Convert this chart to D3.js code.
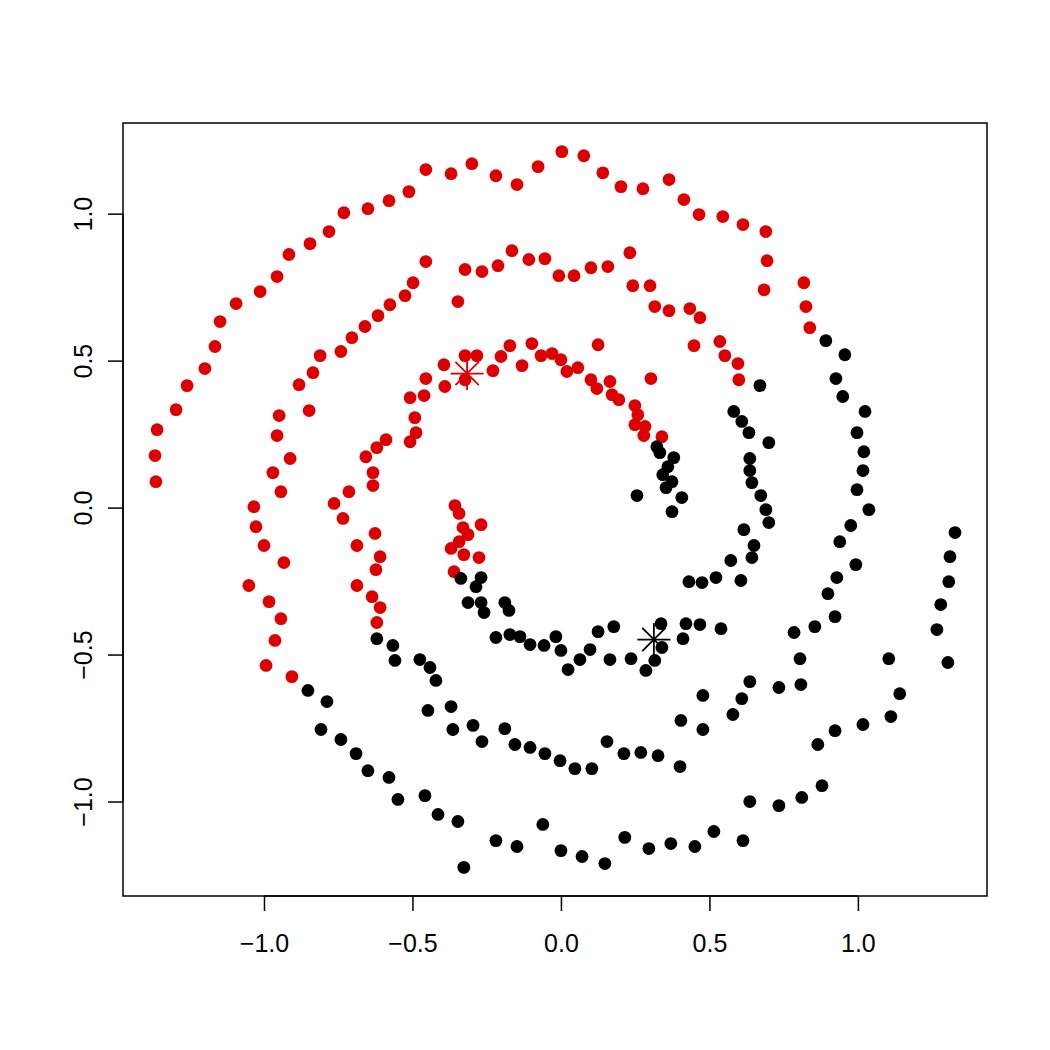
<!DOCTYPE html>
<html>
<head>
<meta charset="utf-8">
<script src="https://cdn.jsdelivr.net/npm/d3@7/dist/d3.min.js"></script>
<style>
  body { margin: 0; background: #fff; }
  text { font-family: "Liberation Sans", Arial, Helvetica, sans-serif; }
</style>
</head>
<body>
<svg id="chart"></svg>
<script>
// spiral 1 (red) and spiral 2 (black)
const redX = [
  -1.364, -1.367, -1.360, -1.296, -1.259, -1.199, -1.165, -1.148, -1.094, -1.013,
  -0.956, -0.916, -0.845, -0.781, -0.731, -0.650, -0.579, -0.512, -0.455, -0.370,
  -0.300, -0.219, -0.148, -0.077, 0.003, 0.077, 0.141, 0.202, 0.276, 0.364,
  0.414, 0.465, 0.545, 0.613, 0.690, 0.694, 0.684, 0.818, 0.825, 0.838,
  -0.498, -0.455, -0.525, -0.576, -0.616, -0.660, -0.704, -0.741, -0.811, -0.835,
  -0.882, -0.848, -0.949, -0.956, -0.912, -0.970, -0.943, -1.034, -1.027, -1.000,
  -0.933, -1.051, -0.983, -0.943, -0.963, -0.993, -0.906,
  -0.323, -0.266, -0.212, -0.165, -0.108, -0.054, -0.007, 0.044, 0.101, 0.158,
  0.232, 0.242, 0.300, 0.316, 0.364, 0.434, 0.468, -0.347, 0.535, 0.552,
  0.596, 0.599, 0.448,
  -0.394, -0.323, -0.283, -0.229, -0.455, -0.391, -0.323, -0.508, -0.461, -0.492,
  -0.488, -0.508, -0.589, -0.620, -0.657, -0.633, -0.633, -0.714, -0.764, -0.734,
  -0.626, -0.687, -0.609, -0.623, -0.687, -0.636, -0.609, -0.620,
  -0.202, -0.172, -0.098, -0.067, -0.030, 0.000, -0.131, 0.020, 0.057, 0.101,
  0.125, 0.165, 0.121, 0.172, 0.195, 0.249, 0.259, 0.249, 0.283, 0.279,
  0.340, 0.303,
  -0.357, -0.343, -0.330, -0.269, -0.313, -0.343, -0.370, -0.327, -0.276, -0.360
];
const redY = [
  0.088, 0.177, 0.265, 0.333, 0.415, 0.473, 0.548, 0.633, 0.694, 0.735,
  0.786, 0.861, 0.898, 0.939, 1.003, 1.017, 1.044, 1.075, 1.150, 1.136,
  1.170, 1.129, 1.099, 1.160, 1.211, 1.197, 1.139, 1.092, 1.085, 1.116,
  1.048, 0.997, 0.990, 0.963, 0.939, 0.840, 0.741, 0.765, 0.684, 0.612,
  0.765, 0.837, 0.721, 0.690, 0.653, 0.616, 0.578, 0.531, 0.517, 0.459,
  0.418, 0.330, 0.313, 0.245, 0.167, 0.119, 0.054, 0.003, -0.065, -0.129,
  -0.187, -0.265, -0.320, -0.378, -0.452, -0.537, -0.575,
  0.810, 0.803, 0.823, 0.874, 0.844, 0.847, 0.789, 0.789, 0.816, 0.820,
  0.867, 0.755, 0.755, 0.684, 0.670, 0.677, 0.646, 0.701, 0.565, 0.517,
  0.490, 0.435, 0.551,
  0.486, 0.517, 0.517, 0.466, 0.439, 0.412, 0.435, 0.374, 0.381, 0.306,
  0.255, 0.224, 0.231, 0.204, 0.173, 0.119, 0.075, 0.054, 0.014, -0.037,
  -0.088, -0.129, -0.167, -0.211, -0.265, -0.303, -0.340, -0.391,
  0.514, 0.551, 0.558, 0.517, 0.524, 0.503, 0.483, 0.463, 0.476, 0.435,
  0.554, 0.429, 0.405, 0.384, 0.367, 0.347, 0.316, 0.282, 0.276, 0.245,
  0.241, 0.439,
  0.007, -0.020, -0.068, -0.058, -0.092, -0.116, -0.139, -0.160, -0.170, -0.218
];
const blackX = [
  0.323, 0.333, 0.380, 0.360, 0.343, 0.374, 0.354, 0.407, 0.256, 0.374,
  -0.337, -0.269, -0.286, -0.313, -0.269, -0.259, -0.189, -0.175, -0.219, -0.172,
  -0.138, -0.104, -0.057, -0.017, 0.000, 0.024, 0.064, 0.098, 0.125, 0.178,
  0.165, 0.236, 0.286, 0.316, 0.340, 0.337, 0.421, 0.411, 0.468, 0.431,
  0.475, 0.539, 0.522, 0.572, 0.606, 0.643, 0.650, 0.616, 0.700, 0.690,
  0.673, 0.643, 0.636, 0.636, 0.700, 0.633, 0.609, 0.582, 0.670,
  -0.620, -0.566, -0.559, -0.475, -0.441, -0.421, -0.448, -0.370, -0.364, -0.296,
  -0.266, -0.189, -0.155, -0.104, -0.054, -0.003, 0.047, 0.104, 0.155, 0.212,
  0.269, 0.327, 0.401, 0.404, 0.478, 0.478, 0.579, 0.609, 0.636, 0.734,
  0.808, 0.805, 0.865, 0.923, 1.017, 1.111, 1.141, 1.104, 0.785, 0.855,
  0.923, 0.899, 0.929, 0.993, 0.939, 0.976, 1.037, 0.997, 1.017, 1.020,
  0.997, 1.024, 0.949, 0.926, 0.956, 0.892,
  -0.852, -0.788, -0.808, -0.741, -0.690, -0.650, -0.579, -0.549, -0.458, -0.414,
  -0.347, -0.327, -0.219, -0.148, -0.061, 0.000, 0.071, 0.148, 0.215, 0.296,
  0.370, 0.451, 0.515, 0.613, 0.636, 0.734, 0.811, 0.879, 1.303, 1.266,
  1.279, 1.306, 1.310, 1.327
];
const blackY = [
  0.207, 0.187, 0.170, 0.139, 0.112, 0.088, 0.068, 0.034, 0.041, -0.014,
  -0.241, -0.238, -0.269, -0.323, -0.323, -0.357, -0.323, -0.350, -0.442, -0.432,
  -0.439, -0.466, -0.469, -0.439, -0.486, -0.551, -0.517, -0.483, -0.422, -0.405,
  -0.517, -0.514, -0.554, -0.520, -0.476, -0.395, -0.395, -0.446, -0.398, -0.252,
  -0.255, -0.412, -0.238, -0.180, -0.248, -0.170, -0.129, -0.075, -0.051, -0.007,
  0.041, 0.085, 0.126, 0.167, 0.221, 0.255, 0.293, 0.327, 0.415,
  -0.446, -0.469, -0.520, -0.517, -0.544, -0.588, -0.690, -0.677, -0.755, -0.741,
  -0.796, -0.752, -0.806, -0.816, -0.837, -0.861, -0.888, -0.888, -0.796, -0.837,
  -0.833, -0.844, -0.881, -0.724, -0.639, -0.755, -0.704, -0.650, -0.592, -0.612,
  -0.602, -0.514, -0.806, -0.759, -0.738, -0.711, -0.633, -0.514, -0.425, -0.405,
  -0.371, -0.293, -0.238, -0.194, -0.116, -0.061, -0.007, 0.061, 0.126, 0.190,
  0.255, 0.327, 0.378, 0.439, 0.520, 0.568,
  -0.622, -0.660, -0.755, -0.789, -0.837, -0.895, -0.918, -0.993, -0.980, -1.044,
  -1.068, -1.224, -1.133, -1.153, -1.078, -1.167, -1.187, -1.211, -1.122, -1.160,
  -1.143, -1.153, -1.102, -1.133, -1.000, -1.014, -0.986, -0.946, -0.527, -0.415,
  -0.330, -0.252, -0.167, -0.085
];
// cluster centres, drawn as asterisks
const centerX = [-0.316, 0.313];
const centerY = [0.456, -0.449];
const centerGroup = ['red', 'black'];

const xTicks = [-1.0, -0.5, 0.0, 0.5, 1.0];
const yTicks = [-1.0, -0.5, 0.0, 0.5, 1.0];

const width = 1050;
const height = 1050;
const margin = { top: 123, right: 63, bottom: 154, left: 123 };
const colors = { red: '#dc0000', black: '#000000' };

const red = redX.map((d, i) => ({ x: d, y: redY[i], g: 'red' }));
const black = blackX.map((d, i) => ({ x: d, y: blackY[i], g: 'black' }));
const centers = centerX.map((d, i) => ({ x: d, y: centerY[i], g: centerGroup[i] }));
const points = red.concat(black);

// R style 4% padding around the data range
const pad = (e) => { const d = (e[1] - e[0]) * 0.04; return [e[0] - d, e[1] + d]; };

const x = d3.scaleLinear()
  .domain(pad(d3.extent(points, d => d.x)))
  .range([margin.left, width - margin.right]);
const y = d3.scaleLinear()
  .domain(pad(d3.extent(points, d => d.y)))
  .range([height - margin.bottom, margin.top]);

const svg = d3.select('#chart')
  .attr('width', width)
  .attr('height', height)
  .attr('viewBox', `0 0 ${width} ${height}`);

svg.append('rect')
  .attr('width', width)
  .attr('height', height)
  .style('fill', 'white');

// x axis
const xAxis = svg.append('g')
  .attr('class', 'axis axis--x')
  .attr('transform', `translate(0, ${height - margin.bottom})`)
  .call(d3.axisBottom(x).tickValues(xTicks).tickSize(15).tickSizeOuter(0)
    .tickFormat(d3.format('.1f')));
xAxis.selectAll('.tick text')
  .attr('y', 38)
  .attr('dy', '0.71em')
  .style('font-size', '25px')
  .style('fill', '#000');

// y axis, labels turned like R (las = 0)
const yAxis = svg.append('g')
  .attr('class', 'axis axis--y')
  .attr('transform', `translate(${margin.left}, 0)`)
  .call(d3.axisLeft(y).tickValues(yTicks).tickSize(15).tickSizeOuter(0)
    .tickFormat(d3.format('.1f')));
yAxis.selectAll('.tick text')
  .attr('x', null)
  .attr('dy', null)
  .attr('transform', 'translate(-31, 0) rotate(-90)')
  .attr('text-anchor', 'middle')
  .style('font-size', '25px')
  .style('fill', '#000');

svg.selectAll('.axis .domain').remove();
svg.selectAll('.axis line').style('stroke', '#000').style('stroke-width', 1.5);

// axis lines only between the outer ticks
xAxis.append('line')
  .attr('x1', x(xTicks[0])).attr('x2', x(xTicks[xTicks.length - 1]))
  .style('stroke', '#000').style('stroke-width', 1.5);
yAxis.append('line')
  .attr('y1', y(yTicks[0])).attr('y2', y(yTicks[yTicks.length - 1]))
  .style('stroke', '#000').style('stroke-width', 1.5);

// plot box
svg.append('rect')
  .attr('x', margin.left)
  .attr('y', margin.top)
  .attr('width', width - margin.left - margin.right)
  .attr('height', height - margin.top - margin.bottom)
  .style('fill', 'none')
  .style('stroke', '#000')
  .style('stroke-width', 1.5);

// points
svg.append('g').attr('class', 'scatter')
  .selectAll('circle')
  .data(points)
  .join('circle')
  .attr('cx', d => x(d.x))
  .attr('cy', d => y(d.y))
  .attr('r', 6.4)
  .style('fill', d => colors[d.g]);

// asterisks (pch = 8)
const arm = 16.5;
const diag = arm / Math.SQRT2;
const star = svg.append('g').attr('class', 'centers')
  .selectAll('g')
  .data(centers)
  .join('g')
  .attr('transform', d => `translate(${x(d.x)}, ${y(d.y)})`)
  .style('stroke', d => colors[d.g])
  .style('stroke-width', 1.8);
star.append('line').attr('x1', -arm).attr('x2', arm).attr('y1', 0).attr('y2', 0);
star.append('line').attr('x1', 0).attr('x2', 0).attr('y1', -arm).attr('y2', arm);
star.append('line').attr('x1', -diag).attr('x2', diag).attr('y1', -diag).attr('y2', diag);
star.append('line').attr('x1', -diag).attr('x2', diag).attr('y1', diag).attr('y2', -diag);
</script>
</body>
</html>
